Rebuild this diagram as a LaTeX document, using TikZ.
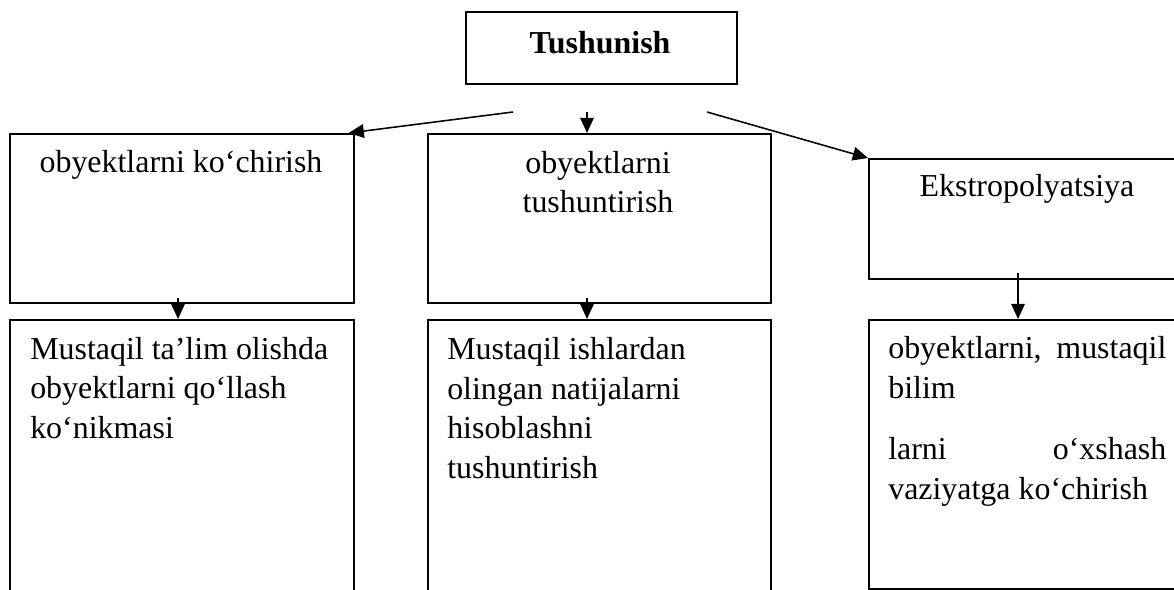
\documentclass[tikz,border=0pt]{standalone}
\usepackage{fontspec}
\setmainfont{Liberation Serif}
\usetikzlibrary{positioning, arrows.meta}
\tikzset{
  box/.style={draw, line width=1.1pt, rectangle, inner sep=0pt, anchor=north west},
  txt/.style={inner sep=0pt, font=\fontsize{22.7}{28}\selectfont},
  arr/.style={line width=1.1pt, -{Triangle[length=0.38cm, width=0.34cm]}}}

\begin{document}
\begin{tikzpicture}[x=0.025cm, y=-0.025cm]
  \clip (0,0) rectangle (1174,590);
  \useasboundingbox (0,0) rectangle (1174,590);
  % boxes
  \node[box, minimum width=6.775cm, minimum height=1.8cm] (t) at (465,11) {};
  \node[box, minimum width=8.6cm, minimum height=4.225cm] (a) at (9,133) {};
  \node[box, minimum width=8.575cm, minimum height=4.225cm] (b) at (427,133) {};
  \node[box, minimum width=7.95cm, minimum height=3cm] (c) at (868,158) {};
  \node[box, minimum width=8.6cm, minimum height=7.6cm] (d) at (9,319) {};
  \node[box, minimum width=8.575cm, minimum height=7.6cm] (e) at (427,319) {};
  \node[box, minimum width=7.95cm, minimum height=6.725cm] (f) at (868,319) {};
  % texts (base = last line)
  \node[txt, font=\fontsize{22.7}{28}\selectfont\bfseries, anchor=base] (t-t) at (600,54) {Tushunish};
  \node[txt, anchor=base] (a-t) at (181,173) {obyektlarni ko‘chirish};
  \node[txt, anchor=base, align=center] (b-t) at (598,213) {obyektlarni\\tushuntirish};
  \node[txt, anchor=base] (c-t) at (1027,197) {Ekstropolyatsiya};
  \node[txt, anchor=base west, align=left] (d-t) at (30,438) {Mustaqil ta’lim olishda\\obyektlarni qo‘llash\\ko‘nikmasi};
  \node[txt, anchor=base west, align=left] (e-t) at (447,478) {Mustaqil ishlardan\\olingan natijalarni\\hisoblashni\\tushuntirish};
  \node[txt, anchor=base west, align=left] (f-t) at (888,499) {\hbox to 6.95cm{obyektlarni,\hfill mustaqil}\\bilim\\[0.55cm]\hbox to 6.95cm{larni\hfill o‘xshash}\\vaziyatga ko‘chirish};
  % arrows
  \coordinate (t1) at (513,112);
  \coordinate (t2) at (587,112);
  \coordinate (t3) at (707,112);
  \draw[arr] (t1) -- ([xshift=-0.15cm]a.north east);
  \draw[arr] (t2) -- (t2 |- b.north);
  \draw[arr] (t3) -- (c.north west);
  \coordinate (a1) at (178,298);
  \draw[arr] (a1) -- (a1 |- d.north);
  \coordinate (b1) at (587,298);
  \draw[arr] (b1) -- (b1 |- e.north);
  \coordinate (c1) at (1018,273);
  \draw[arr] (c1) -- (c1 |- f.north);
\end{tikzpicture}
\end{document}
